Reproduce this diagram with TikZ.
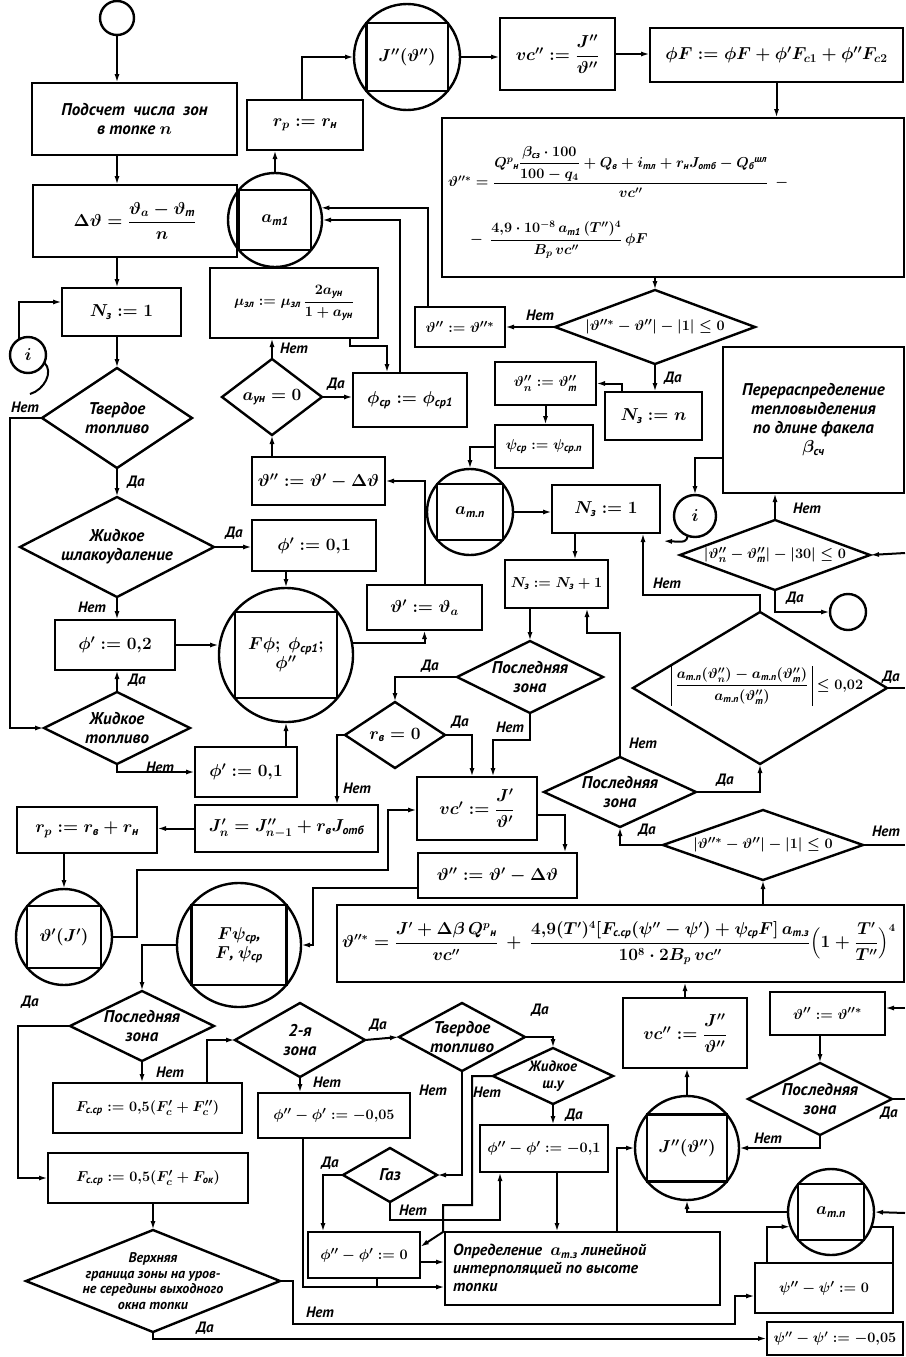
\documentclass[tikz,border=0pt]{standalone}
\usepackage{amsmath}
\usepackage{fontspec}
\setmainfont{PT Sans}
\usetikzlibrary{arrows.meta,shapes.geometric}
\newcommand\mybox[7][]{\node[bx,#1,minimum width={(#5)-(#3)},minimum height={(#6)-(#4)}] (#2) at ({((#3)+(#5))/2},{((#4)+(#6))/2}) {#7};}
\newcommand\mydia[7][]{\node[dia,minimum width={2*(#5)},minimum height={2*(#6)}] (#2) at (#3,#4) {};\node[txt,#1] at (#2) {#7};}
\newcommand\mycirc[6][]{\node[cir,minimum size={2*(#5)}] (#2) at (#3,#4) {};\draw[line width=2.2pt] (#2.40) -- (#2.140) -- (#2.220) -- (#2.320) -- cycle;\node[txt,#1] at (#2) {#6};}
\begin{document}
\begin{tikzpicture}[x=1pt,y=-1pt,
  base/.style={font=\fontsize{17}{19}\selectfont\bfseries\itshape\boldmath},
  sm/.style={font=\fontsize{15}{17}\selectfont\bfseries\itshape\boldmath},
  xs/.style={font=\fontsize{14}{16}\selectfont\bfseries\itshape\boldmath},
  bx/.style={base,draw,line width=2.4pt,outer sep=0pt,inner sep=1pt,align=center},
  dia/.style={draw,diamond,line width=2.4pt,outer sep=0pt,inner sep=0pt},
  cir/.style={draw,circle,line width=2.4pt,outer sep=0pt,inner sep=0pt},
  txt/.style={base,align=center,inner sep=0pt},
  lab/.style={font=\fontsize{15}{17}\selectfont\bfseries\itshape,inner sep=1pt},
  ln/.style={line width=2pt},
  arr/.style={line width=2pt,-{Latex[length=9pt,width=5pt]}}]
\fill[white] (0,0) rectangle (905,1357);
\useasboundingbox (0,0) rectangle (905,1357);

% ---------- nodes ----------
\node[cir,minimum size=34pt] (S0) at (117,18) {};
\mybox{B1}{32}{83}{237}{155}{Подсчет\ \ числа\ \ зон\\в топке $n$}
\mybox{B2}{33}{185}{237}{257}{$\Delta\vartheta = \dfrac{\vartheta_a - \vartheta_\text{т}}{n}$}
\mybox{B3}{62}{288}{181}{336}{$N_\text{з} := 1$}
\node[cir,minimum size=36pt,base] (I1) at (28,355) {$i$};
\mydia{D1}{117}{418}{75}{50}{Твердое\\топливо}
\mydia{D2}{117}{547}{97}{50}{Жидкое\\шлакоудаление}
\mybox{B4}{55}{620}{175}{670}{$\phi' := 0{,}2$}
\mydia{D3}{117}{728}{73}{36}{Жидкое\\топливо}
\mybox{B5}{195}{747}{297}{797}{$\phi' := 0{,}1$}
\mybox{B6}{252}{520}{376}{571}{$\phi' := 0{,}1$}
\mycirc{CF}{286}{655}{67}{$F\phi;\ \phi_\text{ср1};$\\$\phi''$}
\mybox{B7}{367}{585}{482}{630}{$\vartheta' := \vartheta_a$}
\mybox{B8}{252}{457}{385}{505}{$\vartheta'' := \vartheta' - \Delta\vartheta$}
\mydia{D4}{272}{397}{50}{38}{$a_\text{ун} = 0$}
\mybox[sm]{B9}{210}{268}{378}{338}{$\mu_\text{зл} := \mu_\text{зл}\,\dfrac{2a_\text{ун}}{1+a_\text{ун}}$}
\mybox{B10}{353}{373}{467}{427}{$\phi_\text{ср} := \phi_\text{ср1}$}
\mycirc{CA1}{275}{220}{47}{$a_\text{т1}$}
\mybox{B12}{247}{100}{363}{150}{$r_p := r_\text{н}$}
\mycirc{CJ1}{407}{57}{53}{$J''(\vartheta'')$}
\mybox{B13}{500}{18}{615}{90}{$vc'' := \dfrac{J''}{\vartheta''}$}
\mybox{B14}{650}{28}{903}{82}{$\phi F := \phi F + \phi' F_{c1} + \phi'' F_{c2}$}
\mybox{B15}{442}{118}{904}{277}{}
\node[txt,anchor=west,xs] at (448,172) {$\vartheta''^{*} = \dfrac{Q^{p}{}_\text{н}\dfrac{\beta_\text{сз}\cdot 100}{100-q_4} + Q_\text{в} + i_\text{тл} + r_\text{н} J_\text{отб} - Q_\text{б}{}^\text{шл}}{vc''}\ \ -$};
\node[txt,anchor=west,xs] at (470,240) {$-\ \ \dfrac{4{,}9\cdot 10^{-8}\, a_\text{т1}\,(T'')^4}{B_p\, vc''}\,\phi F$};
\mydia[sm]{D5}{655}{327}{100}{37}{$|\vartheta''^{*} - \vartheta''| - |1| \le 0$}
\mybox[sm]{B11}{415}{307}{505}{347}{$\vartheta'' := \vartheta''^{*}$}
\mybox{B16}{605}{392}{702}{440}{$N_\text{з} := n$}
\mybox[sm]{B17}{495}{362}{596}{405}{$\vartheta''_n := \vartheta''_\text{т}$}
\mybox[sm]{B18}{495}{425}{593}{468}{$\psi_\text{ср} := \psi_\text{ср.п}$}
\mycirc{CAN}{470}{512}{43}{$a_\text{т.п}$}
\mybox{B19}{552}{485}{660}{533}{$N_\text{з} := 1$}
\mybox[sm]{B20}{505}{560}{608}{608}{$N_\text{з} := N_\text{з} + 1$}
\mydia{D6}{530}{677}{73}{36}{Последняя\\зона}
\mydia{D11}{395}{735}{50}{33}{$r_\text{в} = 0$}
\mybox{B21}{417}{777}{537}{840}{$vc' := \dfrac{J'}{\vartheta'}$}
\mybox{B22}{195}{805}{378}{852}{$J'_n = J''_{n-1} + r_\text{в} J_\text{отб}$}
\mybox{B24}{17}{807}{157}{853}{$r_p := r_\text{в} + r_\text{н}$}
\mycirc{CVJ}{64}{937}{48}{$\vartheta'(J')$}
\mybox{B23}{418}{853}{577}{898}{$\vartheta'' := \vartheta' - \Delta\vartheta$}
\mycirc{CFP}{239}{945}{62}{$F\psi_\text{ср}$,\\$F$,\ $\psi_\text{ср}$}
\mydia{D12}{142}{1026}{72}{35}{Последняя\\зона}
\mybox[sm]{B25}{53}{1083}{242}{1133}{$F_\text{с.ср} := 0{,}5(F'_c + F''_c)$}
\mybox[sm]{B26}{48}{1153}{248}{1203}{$F_\text{с.ср} := 0{,}5(F'_c + F_\text{ок})$}
\node[dia,minimum width=254pt,minimum height=102pt] (D14) at (153,1281) {};
\node[txt,font=\fontsize{14}{15.5}\selectfont\bfseries\itshape] at (D14) {Верхняя\\граница зоны на уров-\\не середины выходного\\окна топки};
\mydia{D13}{300}{1040}{65}{37}{2-я\\зона}
\mydia{D16}{462}{1037}{63}{34}{Твердое\\топливо}
\mydia[sm]{D17}{553}{1076}{60}{28}{Жидкое\\ш.у}
\mybox[sm]{BF5}{258}{1093}{410}{1138}{$\phi'' - \phi' := -0{,}05$}
\mybox[sm]{BF1}{480}{1125}{608}{1172}{$\phi'' - \phi' := -0{,}1$}
\mydia{D18}{390}{1175}{47}{27}{Газ}
\mybox[sm]{BF0}{308}{1232}{420}{1278}{$\phi'' - \phi' := 0$}
\mybox{BOP}{445}{1232}{720}{1305}{}
\node[txt,anchor=west,align=left,font=\fontsize{16}{18}\selectfont\bfseries\itshape\boldmath] at (453,1268) {Определение\ \ $a_\text{т.з}$ линейной\\интерполяцией по высоте\\топки};
\mycirc{CJ2}{687}{1148}{52}{$J''(\vartheta'')$}
\mybox{B27}{623}{998}{747}{1068}{$vc'' := \dfrac{J''}{\vartheta''}$}
\mydia{D15}{820}{1099}{72}{36}{Последняя\\зона}
\mybox[sm]{B29}{770}{992}{885}{1035}{$\vartheta'' := \vartheta''^{*}$}
\mybox{B28}{337}{905}{904}{982}{}
\node[txt,anchor=west,font=\fontsize{16}{18}\selectfont\bfseries\itshape\boldmath] at (342,943) {$\vartheta''^{*} = \dfrac{J' + \Delta\beta\, Q^p{}_\text{н}}{vc''}\ +\ \dfrac{4{,}9 (T')^4 [F_\text{с.ср}(\psi''-\psi') + \psi_\text{ср} F]\, a_\text{т.з}}{10^8\cdot 2B_p\, vc''}\Bigl(1 + \dfrac{T'}{T''}\Bigr)^4$};
\mydia[sm]{D9}{763}{845}{100}{35}{$|\vartheta''^{*} - \vartheta''| - |1| \le 0$}
\mydia{D7}{620}{792}{76}{35}{Последняя\\зона}
\node[dia,minimum width=254pt,minimum height=152pt] (D8) at (760,688) {};
\node[txt,xs,inner sep=1pt] (D8t) at (742,686) {$\dfrac{a_\text{т.п}(\vartheta''_n) - a_\text{т.п}(\vartheta''_\text{т})}{a_\text{т.п}(\vartheta''_\text{т})}$};
\draw[line width=1.4pt] ([xshift=-3pt]D8t.north west) -- ([xshift=-3pt]D8t.south west);
\draw[line width=1.4pt] ([xshift=3pt]D8t.north east) -- ([xshift=3pt]D8t.south east);
\node[txt,xs,anchor=west] at ([xshift=7pt]D8t.east) {$\le 0{,}02$};
\mydia[sm]{D10}{775}{555}{95}{35}{$|\vartheta''_n - \vartheta''_\text{т}| - |30| \le 0$}
\node[cir,minimum size=36pt] (E) at (848,612) {};
\mybox{B30}{723}{347}{904}{493}{Перераспределение\\тепловыделения\\по длине факела\\$\beta_\text{сч}$}
\node[cir,minimum size=42pt,base] (I2) at (695,516) {$i$};
\mycirc{CAN2}{831}{1212}{43}{$a_\text{т.п}$}
\mybox[sm]{BP0}{755}{1263}{893}{1313}{$\psi'' - \psi' := 0$}
\mybox[xs]{BP5}{767}{1322}{903}{1355}{$\psi'' - \psi' := -0{,}05$}
\coordinate (eR1) at (905,845);
\coordinate (eR2) at (905,1008);
\coordinate (eR3) at (905,1099);
\coordinate (eR4) at (905,1213);
\coordinate (eR5) at (905,688);
\coordinate (eR6) at (905,553);

% ---------- connectors ----------
\draw[arr] (S0.south) -- (S0.south |- B1.north);
\draw[arr] (B1.south -| S0) -- (B2.north -| S0);
\draw[arr] (B2.south -| S0) -- (B3.north -| S0);
\draw[arr] (I1.120) |- (B3.west |- 0,302);
\draw[ln] (I1.-25) .. controls (54,372) and (44,390) .. (30,394);
\draw[arr] (B3.south -| D1.north) -- (D1.north);
\draw[arr] (D1.west) -- (10,418) |- (D3.west);
\draw[arr] (D1.south) -- (D2.north);
\draw[arr] (D2.east) -- (D2.east -| B6.west);
\draw[arr] (D2.south) -- (D2.south |- B4.north);
\draw[arr] (B4.east) -- (B4.east -| CF.west);
\draw[arr] (D3.north) -- (D3.north |- B4.south);
\draw[arr] (D3.south) |- (B5.west);
\draw[arr] (B5.north -| CF.south) -- (CF.south);
\draw[arr] (B6.south -| CF.north) -- (CF.north);
\draw[arr] (CF.10) -| (B7.south);
\draw[arr] (B7.north) |- (B8.east);
\draw[arr] (B8.north -| D4.south) -- (D4.south);
\draw[arr] (D4.north) -- (D4.north |- B9.south);
\draw[arr] (D4.east) -- (D4.east -| B10.west);
\draw[arr] (B9.south -| 350,0) -- (350,346) -| (B10.north -| 387,0);
\draw[arr] (B10.north -| 400,0) |- (CA1.east);
\draw[arr] (B11.north -| 428,0) |- (CA1.15);
\draw[arr] (CA1.north) -- (CA1.north |- B12.south);
\draw[arr] (B12.north -| 302,0) |- (CJ1.west);
\draw[arr] (CJ1.east) -- (CJ1.east -| B13.west);
\draw[arr] (B13.east) -- (B13.east -| B14.west);
\draw[arr] (B14.south) -- (B14.south |- B15.north);
\draw[arr] (D5.north |- B15.south) -- (D5.north);
\draw[arr] (D5.west) -- (D5.west -| B11.east);
\draw[arr] (D5.south) -- (D5.south |- B16.north);
\draw[arr] (B16.north -| 622,0) |- (B17.east);
\draw[arr] (B17.south) -- (B17.south |- B18.north);
\draw[arr] (B18.west) -| (CAN.north);
\draw[arr] (CAN.east) -- (CAN.east -| B19.west);
\draw[arr] (B19.south -| 575,0) -- (B20.north -| 575,0);
\draw[arr] (B20.south -| D6.north) -- (D6.north);
\draw[arr] (D7.north) -- (D7.north |- 0,633) -| (B20.south -| 587,0);
\draw[arr] (D8.north) -- (D8.north |- 0,595) -| (B19.south -| 643,0);
\draw[arr] (D6.west) -| (D11.north);
\draw[arr] (D6.south) -- (D6.south |- 0,740) -| (B21.north -| 493,0);
\draw[arr] (D11.east) -| (B21.north -| 472,0);
\draw[arr] (D11.west) -| (B22.north -| 337,0);
\draw[arr] (B22.west) -- (B22.west -| B24.east);
\draw[arr] (B24.south -| CVJ.north) -- (CVJ.north);
\draw[arr] (CVJ.east) -| (137,870) -| (388,810) -- (B21.west |- 0,810);
\draw[arr] (B21.east |- 0,815) -| (B23.north -| 565,0);
\draw[arr] (B23.west |- 0,888) -| (313,945) -- (CFP.east);
\draw[arr] (CFP.west) -| (D12.north);
\draw[arr] (D12.west) -- (18,1026) |- (B26.west);
\draw[arr] (D12.south) -- (D12.south |- B25.north);
\draw[arr] (B25.north -| 207,0) |- (D13.west);
\draw[arr] (D14.north |- B26.south) -- (D14.north);
\draw[arr] (D14.east) -| (293,1324) -| (735,1296) -- (BP0.west |- 0,1296);
\draw[arr] (D14.south) |- (BP5.west);
\draw[arr] (D13.south) -- (D13.south |- BF5.north);
\draw[arr] (D13.east) -- (D16.west);
\draw[arr] (D16.south) |- (D18.east);
\draw[arr] (D16.east) -| (D17.north);
\draw[arr] (D17.south) -- (D17.south |- BF1.north);
\draw[arr] (D17.west) -| (472,1205) -- (443,1205) -- (443,1232) -- (BF0.east |- 0,1247);
\draw[arr] (D18.west) -| (BF0.north -| 323,0);
\draw[arr] (D18.south) -- (D18.south |- 0,1220) -| (BF1.south -| 500,0);
\draw[arr] (BF1.south -| 557,0) -- (BOP.north -| 557,0);
\draw[arr] (BF0.east |- 0,1262) -- (BOP.west |- 0,1262);
\draw[arr] (BF5.south -| 303,0) |- (BOP.west |- 0,1287);
\draw[ln] (BF0.south -| 377,0) -- (377,1287);
\draw[arr] (BOP.north -| 617,0) |- (CJ2.west);
\draw[arr] (CAN2.west) -| (CJ2.south);
\draw[arr] (CJ2.north) -- (CJ2.north |- B27.south);
\draw[arr] (B27.north) -- (B27.north |- B28.south);
\draw[arr] (D9.south |- B28.north) -- (D9.south);
\draw[arr] (D9.west) -| (D7.south);
\draw[ln] (D9.east) -- (eR1);
\draw[arr] (eR2) -- (B29.east |- eR2);
\draw[arr] (D15.north |- B29.south) -- (D15.north);
\draw[ln] (D15.east) -- (eR3);
\draw[arr] (D15.south) |- (CJ2.east);
\draw[arr] (eR4) -- (CAN2.east);
\draw[arr] (BP0.north -| 767,0) |- (CAN2.200);
\draw[ln] (BP0.north -| 893,0) |- (CAN2.-20);
\draw[arr] (D7.east) -| (D8.south);
\draw[ln] (D8.east) -- (eR5);
\draw[arr] (eR6) -- (D10.east);
\draw[arr] (D10.north) -- (D10.north |- B30.south);
\draw[arr] (D10.south) |- (E.west);
\draw[arr] (B30.west |- 0,458) -| (I2.north);
\draw[arr] (I2.250) .. controls (686,542) .. (663,541);

% ---------- labels ----------
\node[lab] at (25,407) {Нет};
\node[lab] at (136,482) {Да};
\node[lab] at (234,533) {Да};
\node[lab] at (92,607) {Нет};
\node[lab] at (137,680) {Да};
\node[lab] at (160,767) {Нет};
\node[lab] at (294,348) {Нет};
\node[lab] at (336,384) {Да};
\node[lab] at (540,315) {Нет};
\node[lab] at (673,378) {Да};
\node[lab] at (430,666) {Да};
\node[lab] at (510,727) {Нет};
\node[lab] at (460,722) {Да};
\node[lab] at (357,788) {Нет};
\node[lab] at (643,743) {Нет};
\node[lab] at (725,780) {Да};
\node[lab] at (667,583) {Нет};
\node[lab] at (891,677) {Да};
\node[lab] at (807,508) {Нет};
\node[lab] at (795,598) {Да};
\node[lab] at (647,830) {Да};
\node[lab] at (886,831) {Нет};
\node[lab] at (30,1002) {Да};
\node[lab] at (170,1072) {Нет};
\node[lab] at (327,1082) {Нет};
\node[lab] at (378,1025) {Да};
\node[lab] at (433,1090) {Нет};
\node[lab] at (540,1010) {Да};
\node[lab] at (574,1115) {Да};
\node[lab] at (487,1092) {Нет};
\node[lab] at (330,1163) {Да};
\node[lab] at (413,1210) {Нет};
\node[lab] at (320,1312) {Нет};
\node[lab] at (205,1328) {Да};
\node[lab] at (768,1138) {Нет};
\node[lab] at (889,1113) {Да};
\end{tikzpicture}
\end{document}
